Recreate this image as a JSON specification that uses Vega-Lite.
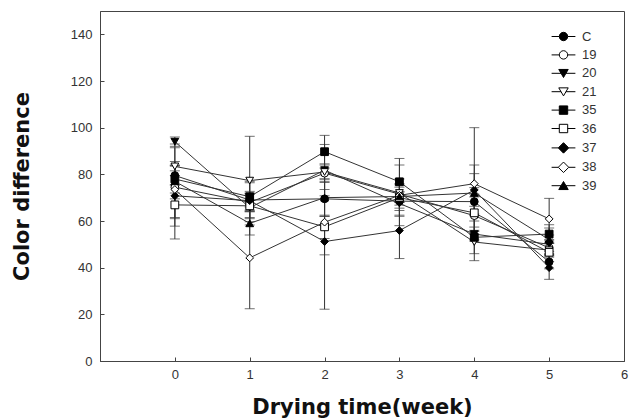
{
  "$schema": "https://vega.github.io/schema/vega-lite/v6.json",
  "width": 524,
  "height": 350,
  "autosize": {"type": "none"},
  "padding": {"left": 100, "top": 11, "right": 5, "bottom": 57},
  "background": "white",
  "config": {
    "view": {"stroke": "#444", "strokeWidth": 1},
    "axis": {
      "grid": false,
      "domainColor": "#444",
      "tickColor": "#444",
      "labelFont": "Liberation Sans",
      "labelFontSize": 13,
      "labelColor": "#333",
      "titleFont": "DejaVu Sans",
      "titleFontWeight": "bold",
      "titleFontSize": 21,
      "titleColor": "#111"
    }
  },
  "data": {
    "values": [
      {"series": "C", "week": 0, "mean": 79.5, "sd": 4},
      {"series": "19", "week": 0, "mean": 74.5, "sd": 5},
      {"series": "20", "week": 0, "mean": 94.0, "sd": 2},
      {"series": "21", "week": 0, "mean": 83.4, "sd": 8},
      {"series": "35", "week": 0, "mean": 78.0, "sd": 6},
      {"series": "36", "week": 0, "mean": 66.9, "sd": 14.6},
      {"series": "37", "week": 0, "mean": 70.8, "sd": 13},
      {"series": "38", "week": 0, "mean": 73.5, "sd": 12},
      {"series": "39", "week": 0, "mean": 77.0, "sd": 16},
      {"series": "C", "week": 1, "mean": 69.0, "sd": 8},
      {"series": "19", "week": 1, "mean": 68.0, "sd": 4},
      {"series": "20", "week": 1, "mean": 65.7, "sd": 6},
      {"series": "21", "week": 1, "mean": 77.3, "sd": 19},
      {"series": "35", "week": 1, "mean": 70.4, "sd": 6},
      {"series": "36", "week": 1, "mean": 66.5, "sd": 5},
      {"series": "37", "week": 1, "mean": 68.7, "sd": 4},
      {"series": "38", "week": 1, "mean": 44.2, "sd": 21.8},
      {"series": "39", "week": 1, "mean": 59.0, "sd": 5},
      {"series": "C", "week": 2, "mean": 69.5, "sd": 7.5},
      {"series": "19", "week": 2, "mean": 80.5, "sd": 4},
      {"series": "20", "week": 2, "mean": 81.8, "sd": 11},
      {"series": "21", "week": 2, "mean": 81.0, "sd": 3},
      {"series": "35", "week": 2, "mean": 89.7, "sd": 7},
      {"series": "36", "week": 2, "mean": 57.5, "sd": 5},
      {"series": "37", "week": 2, "mean": 51.2, "sd": 29},
      {"series": "38", "week": 2, "mean": 59.5, "sd": 14},
      {"series": "39", "week": 2, "mean": 70.0, "sd": 8},
      {"series": "C", "week": 3, "mean": 68.5, "sd": 4},
      {"series": "19", "week": 3, "mean": 71.5, "sd": 3},
      {"series": "20", "week": 3, "mean": 67.5, "sd": 5},
      {"series": "21", "week": 3, "mean": 72.0, "sd": 4},
      {"series": "35", "week": 3, "mean": 76.8, "sd": 10},
      {"series": "36", "week": 3, "mean": 70.0, "sd": 8},
      {"series": "37", "week": 3, "mean": 55.9, "sd": 12},
      {"series": "38", "week": 3, "mean": 71.0, "sd": 13},
      {"series": "39", "week": 3, "mean": 70.5, "sd": 5},
      {"series": "C", "week": 4, "mean": 68.3, "sd": 6},
      {"series": "19", "week": 4, "mean": 62.3, "sd": 8},
      {"series": "20", "week": 4, "mean": 54.4, "sd": 3},
      {"series": "21", "week": 4, "mean": 51.0, "sd": 5},
      {"series": "35", "week": 4, "mean": 53.0, "sd": 10},
      {"series": "36", "week": 4, "mean": 63.5, "sd": 8},
      {"series": "37", "week": 4, "mean": 73.3, "sd": 7},
      {"series": "38", "week": 4, "mean": 76.0, "sd": 24},
      {"series": "39", "week": 4, "mean": 72.0, "sd": 12},
      {"series": "C", "week": 5, "mean": 42.5, "sd": 3},
      {"series": "19", "week": 5, "mean": 48.5, "sd": 3},
      {"series": "20", "week": 5, "mean": 50.0, "sd": 4},
      {"series": "21", "week": 5, "mean": 47.5, "sd": 3},
      {"series": "35", "week": 5, "mean": 54.4, "sd": 4},
      {"series": "36", "week": 5, "mean": 46.6, "sd": 4},
      {"series": "37", "week": 5, "mean": 40.0, "sd": 5},
      {"series": "38", "week": 5, "mean": 60.9, "sd": 8.8},
      {"series": "39", "week": 5, "mean": 52.0, "sd": 5}
    ]
  },
  "layer": [
    {
      "mark": {"type": "errorbar", "ticks": {"size": 10}, "color": "#333"},
      "encoding": {
        "x": {
          "field": "week", "type": "quantitative",
          "scale": {"domain": [-1, 6], "nice": false, "zero": false},
          "axis": {
            "title": "Drying time(week)",
            "values": [0, 1, 2, 3, 4, 5, 6],
            "format": "d",
            "tickSize": -4,
            "labelPadding": 11,
            "labelFlush": false,
            "titleY": 52,
            "titleBaseline": "alphabetic"
          }
        },
        "y": {
          "field": "mean", "type": "quantitative",
          "scale": {"domain": [0, 150], "nice": false},
          "axis": {
            "title": "Color difference",
            "values": [0, 20, 40, 60, 80, 100, 120, 140],
            "format": "d",
            "tickSize": -4,
            "labelPadding": 12,
            "labelFlush": false,
            "titleX": -72,
            "titleY": 175,
            "titleBaseline": "alphabetic"
          }
        },
        "yError": {"field": "sd"}
      }
    },
    {
      "mark": {"type": "line", "color": "#333", "strokeWidth": 1},
      "encoding": {
        "x": {"field": "week", "type": "quantitative"},
        "y": {"field": "mean", "type": "quantitative"},
        "detail": {"field": "series"}
      }
    },
    {
      "mark": {"type": "point", "stroke": "black", "strokeWidth": 1, "opacity": 1},
      "encoding": {
        "x": {"field": "week", "type": "quantitative"},
        "y": {"field": "mean", "type": "quantitative"},
        "shape": {
          "field": "series", "type": "nominal",
          "scale": {
            "domain": ["C", "19", "20", "21", "35", "36", "37", "38", "39"],
            "range": ["circle", "circle", "triangle-down", "triangle-down", "square", "square", "diamond", "diamond", "triangle-up"]
          },
          "legend": null
        },
        "fill": {
          "field": "series", "type": "nominal",
          "scale": {
            "domain": ["C", "19", "20", "21", "35", "36", "37", "38", "39"],
            "range": ["black", "white", "black", "white", "black", "white", "black", "white", "black"]
          },
          "legend": null
        },
        "size": {
          "field": "series", "type": "nominal",
          "scale": {
            "domain": ["C", "19", "20", "21", "35", "36", "37", "38", "39"],
            "range": [60, 60, 90, 90, 70, 70, 110, 110, 90]
          },
          "legend": null
        }
      }
    },
    {
      "mark": {"type": "point", "stroke": "black", "strokeWidth": 1, "opacity": 0},
      "encoding": {
        "x": {"field": "week", "type": "quantitative"},
        "y": {"field": "mean", "type": "quantitative"},
        "shape": {
          "field": "series", "type": "nominal",
          "scale": {
            "domain": ["C", "19", "20", "21", "35", "36", "37", "38", "39"],
            "range": [
              "M-3.4,0L-1.2,0M1.2,0L3.4,0M-1.2,0A1.2,1.2,0,1,1,1.2,0A1.2,1.2,0,1,1,-1.2,0Z",
              "M-3.4,0L-1.2,0M1.2,0L3.4,0M-1.2,0A1.2,1.2,0,1,1,1.2,0A1.2,1.2,0,1,1,-1.2,0Z",
              "M-3.4,0L-0.7,0M0.7,0L3.4,0M-1.35,-1.1L1.35,-1.1L0,1.2Z",
              "M-3.4,0L-0.7,0M0.7,0L3.4,0M-1.35,-1.1L1.35,-1.1L0,1.2Z",
              "M-3.4,0L-1.2,0M1.2,0L3.4,0M-1.2,-1.2L1.2,-1.2L1.2,1.2L-1.2,1.2Z",
              "M-3.4,0L-1.2,0M1.2,0L3.4,0M-1.2,-1.2L1.2,-1.2L1.2,1.2L-1.2,1.2Z",
              "M-3.4,0L-1.5,0M1.5,0L3.4,0M0,-1.5L1.5,0L0,1.5L-1.5,0Z",
              "M-3.4,0L-1.5,0M1.5,0L3.4,0M0,-1.5L1.5,0L0,1.5L-1.5,0Z",
              "M-3.4,0L-0.7,0M0.7,0L3.4,0M-1.35,1.1L1.35,1.1L0,-1.2Z"
            ]
          },
          "legend": {
            "title": null, "orient": "none", "legendX": 457, "legendY": 19,
            "symbolSize": 49, "symbolOpacity": 1, "symbolStrokeColor": "black", "symbolStrokeWidth": 1,
            "labelFont": "Liberation Sans", "labelFontSize": 13, "labelColor": "#333",
            "labelOffset": 12, "rowPadding": 4.4, "padding": 0,
            "encode": {"symbols": {"update": {"stroke": {"value": "black"}, "strokeWidth": {"value": 1}, "opacity": {"value": 1}}}}
          }
        },
        "fill": {
          "field": "series", "type": "nominal",
          "scale": {
            "domain": ["C", "19", "20", "21", "35", "36", "37", "38", "39"],
            "range": ["black", "white", "black", "white", "black", "white", "black", "white", "black"]
          },
          "legend": {
            "title": null, "orient": "none", "legendX": 457, "legendY": 19,
            "symbolSize": 49, "symbolOpacity": 1, "symbolStrokeColor": "black", "symbolStrokeWidth": 1,
            "labelFont": "Liberation Sans", "labelFontSize": 13, "labelColor": "#333",
            "labelOffset": 12, "rowPadding": 4.4, "padding": 0,
            "encode": {"symbols": {"update": {"stroke": {"value": "black"}, "strokeWidth": {"value": 1}, "opacity": {"value": 1}}}}
          }
        }
      }
    }
  ],
  "resolve": {
    "scale": {"shape": "independent", "fill": "independent", "size": "independent"},
    "legend": {"shape": "independent", "fill": "independent", "size": "independent"}
  }
}
